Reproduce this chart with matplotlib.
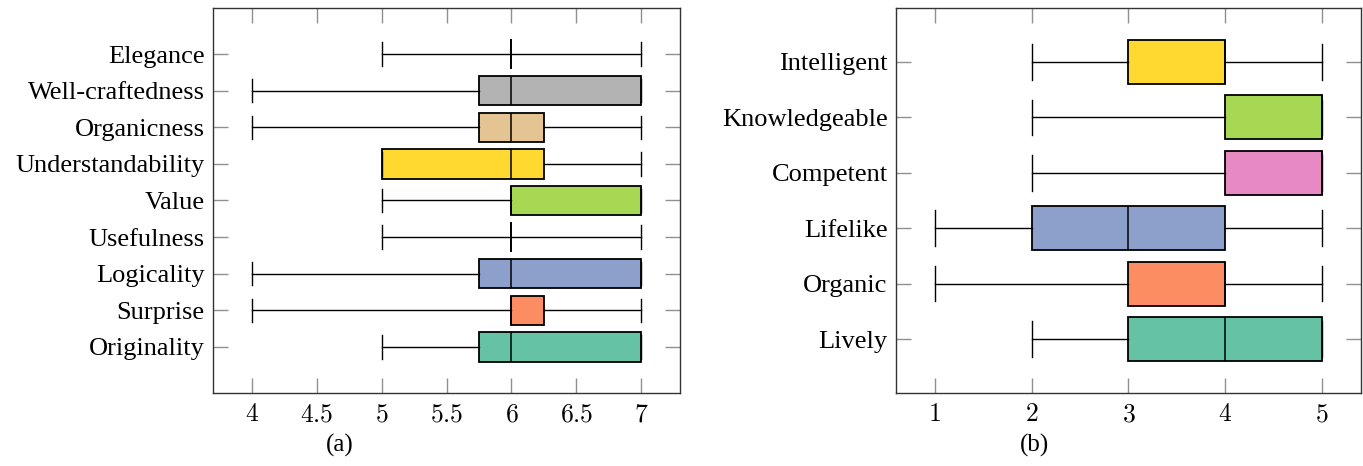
import matplotlib
matplotlib.use("Agg")
from matplotlib import pyplot as plt

plt.rcParams['font.family'] = ['Liberation Serif', 'DejaVu Serif']
plt.rcParams['mathtext.fontset'] = 'cm'

# panel (a): whisker low, q1, median, q3, whisker high
labels_a = ["Originality", "Surprise", "Logicality", "Usefulness", "Value",
            "Understandability", "Organicness", "Well-craftedness", "Elegance"]
low_a = [5, 4, 4, 5, 5, 5, 4, 4, 5]
q1_a = [5.75, 6, 5.75, 6, 6, 5, 5.75, 5.75, 6]
med_a = [6, 6, 6, 6, 6, 6, 6, 6, 6]
q3_a = [7, 6.25, 7, 6, 7, 6.25, 6.25, 7, 6]
high_a = [7, 7, 7, 7, 7, 7, 7, 7, 7]
ticks_a = [4, 4.5, 5, 5.5, 6, 6.5, 7]

# panel (b)
labels_b = ["Lively", "Organic", "Lifelike", "Competent", "Knowledgeable", "Intelligent"]
low_b = [2, 1, 1, 2, 2, 2]
q1_b = [3, 3, 2, 4, 4, 3]
med_b = [4, 4, 3, 5, 5, 4]
q3_b = [5, 4, 4, 5, 5, 4]
high_b = [5, 5, 5, 5, 5, 5]
ticks_b = [1, 2, 3, 4, 5]

set2 = ["#66c2a5", "#fc8d62", "#8da0cb", "#e78ac3", "#a6d854",
        "#ffd92f", "#e5c494", "#b3b3b3"]

fig = plt.figure(figsize=(13.63, 4.66), dpi=100)
ax1 = fig.add_axes([0.1563, 0.1567, 0.3427, 0.8261])
ax2 = fig.add_axes([0.6574, 0.1567, 0.3410, 0.8261])


def draw(ax, labels, low, q1, med, q3, high, ticks, xlim, ylim):
    stats = []
    for i in range(len(labels)):
        stats.append(dict(whislo=low[i], q1=q1[i], med=med[i], q3=q3[i],
                          whishi=high[i], fliers=[]))
    n = len(labels)
    pos = list(range(1, n + 1))
    bp = ax.bxp(stats, positions=pos, widths=0.8, capwidths=0.64,
                orientation='horizontal', patch_artist=True, showfliers=False,
                boxprops=dict(edgecolor='black', linewidth=1.3),
                medianprops=dict(color='black', linewidth=1.1),
                whiskerprops=dict(color='black', linewidth=1.0),
                capprops=dict(color='black', linewidth=1.0))
    for i, b in enumerate(bp['boxes']):
        b.set_facecolor(set2[i % len(set2)])
    ax.set_yticks(pos)
    ax.set_yticklabels(labels, fontsize=19)
    ax.set_xticks(ticks)
    ax.set_xticklabels(["$%g$" % t for t in ticks], fontsize=18.5)
    ax.set_xlim(xlim)
    ax.set_ylim(ylim)
    ax.tick_params(axis='both', direction='in', length=11, width=1,
                   color='#909090', top=True, right=True)
    ax.tick_params(axis='x', pad=8)
    ax.tick_params(axis='y', pad=6)
    for s in ax.spines.values():
        s.set_color('#333333')
        s.set_linewidth(1.0)


draw(ax1, labels_a, low_a, q1_a, med_a, q3_a, high_a, ticks_a,
     (3.7, 7.3), (-0.26, 10.26))
draw(ax2, labels_b, low_b, q1_b, med_b, q3_b, high_b, ticks_b,
     (0.6, 5.4), (0.03, 6.97))

fig.text(0.2494, 0.045, "(a)", fontsize=18, ha='center', va='center')
fig.text(0.7593, 0.045, "(b)", fontsize=18, ha='center', va='center')

fig.savefig("out.png", dpi=100)
